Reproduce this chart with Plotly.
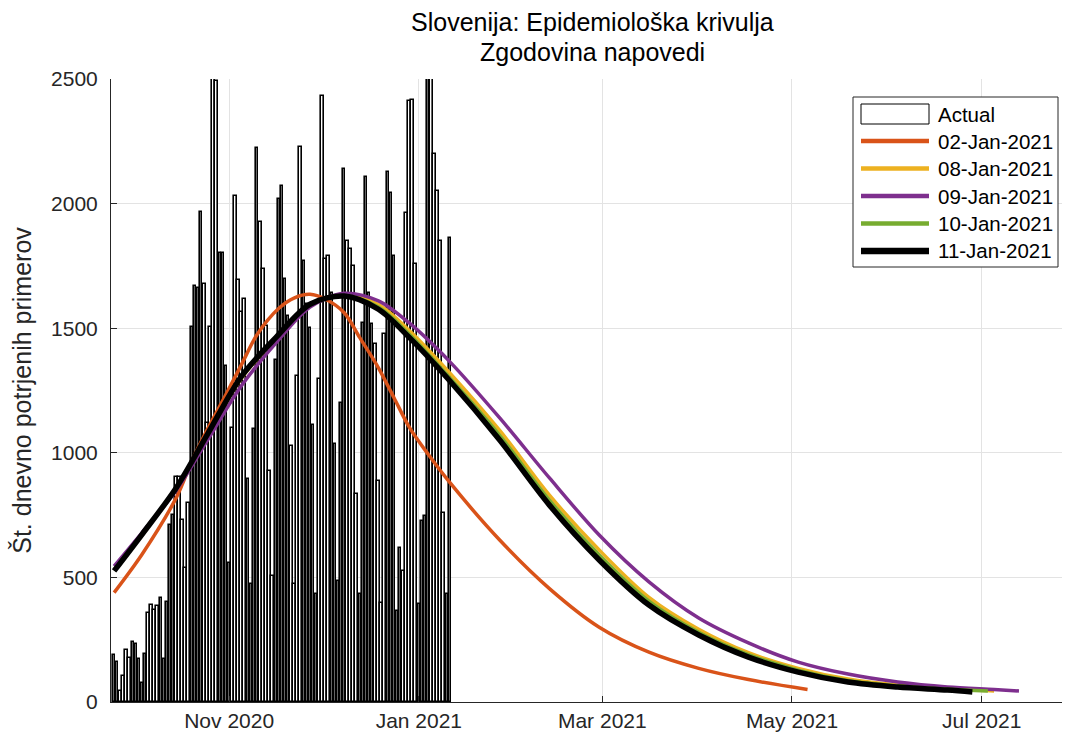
import pandas as pd
import plotly.graph_objects as go

# ---------------- data ----------------
bar_start = "2020-09-25"
actual = [
    189, 162, 44,
    104, 207, 178, 242, 231, 171, 78,
    194, 358, 389, 368, 384, 416, 171,
    403, 710, 749, 903, 903, 729, 539,
    800, 1506, 1668, 1660, 1968, 1676, 1118,
    1505, 2580, 2490, 1803, 1803, 1348, 559,
    1100, 2030, 1692, 1566, 1616, 894, 472,
    1094, 2225, 1927, 1736, 1509, 927, 506,
    1372, 2017, 2070, 1696, 1549, 1027, 472,
    1308, 2228, 1770, 1596, 1500, 1110, 432,
    1295, 2433, 1776, 1790, 1643, 1034, 486,
    1200, 2138, 1850, 1816, 1750, 833, 432,
    1522, 2105, 1643, 1515, 1435, 887, 399,
    1475, 2128, 2044, 1790, 365, 617, 526,
    1964, 2413, 2417, 1756, 392, 726, 746,
    2600, 2550, 2200, 2050, 1850, 757, 432,
    1863,
]
bar_dates = pd.date_range(bar_start, periods=len(actual), freq="D")

fc_02_dates = ["2020-09-25", "2020-10-04", "2020-10-15", "2020-10-20", "2020-10-25",
               "2020-10-31", "2020-11-05", "2020-11-10", "2020-11-17", "2020-11-22",
               "2020-11-27", "2020-12-02", "2020-12-08", "2020-12-13", "2020-12-19",
               "2020-12-24", "2020-12-29", "2021-01-04", "2021-01-11", "2021-01-27",
               "2021-02-12", "2021-02-28", "2021-03-16", "2021-04-01", "2021-04-17",
               "2021-05-06"]
fc_02_vals = [439, 593, 820, 967, 1094, 1235, 1355, 1475, 1580, 1622, 1636, 1616, 1562,
              1462, 1341, 1221, 1101, 994, 880, 650, 455, 300, 200, 135, 90, 50]

curve_dates = ["2020-09-25", "2020-10-04", "2020-10-15", "2020-10-25", "2020-11-05",
               "2020-11-16", "2020-11-27", "2020-12-08", "2020-12-19", "2020-12-29",
               "2021-01-11", "2021-01-27", "2021-02-12", "2021-02-28", "2021-03-16",
               "2021-04-01", "2021-04-17", "2021-05-03", "2021-05-19", "2021-06-04",
               "2021-06-20"]
fc_08_end = ["2021-07-05"]
fc_08_vals = [530, 675, 858, 1070, 1300, 1458, 1595, 1632, 1595, 1490, 1320, 1090, 830,
              610, 420, 292, 198, 135, 92, 68, 54, 44]
fc_09_end = ["2021-07-05", "2021-07-13"]
fc_09_vals = [545, 680, 850, 1050, 1270, 1440, 1585, 1640, 1610, 1520, 1365, 1140, 899,
              670, 482, 337, 237, 160, 112, 80, 60, 50, 44]
fc_10_end = ["2021-07-03"]
fc_10_vals = [528, 674, 860, 1073, 1306, 1461, 1596, 1630, 1585, 1475, 1300, 1070, 810,
              590, 405, 280, 190, 128, 86, 64, 51, 44]
fc_11_end = ["2021-06-28"]
fc_11_vals = [526, 673, 860, 1074, 1308, 1462, 1596, 1629, 1576, 1462, 1288, 1051, 790,
              570, 389, 269, 180, 120, 80, 60, 48, 40]

x_tickvals = ["2020-11-01", "2021-01-01", "2021-03-01", "2021-05-01", "2021-07-01"]
x_ticktext = ["Nov 2020", "Jan 2021", "Mar 2021", "May 2021", "Jul 2021"]
y_tickvals = [0, 500, 1000, 1500, 2000, 2500]

title_lines = ["Slovenija: Epidemiološka krivulja", "Zgodovina napovedi"]
legend_names = ["Actual", "02-Jan-2021", "08-Jan-2021", "09-Jan-2021", "10-Jan-2021",
                "11-Jan-2021"]

# ---------------- figure ----------------
FONT = "Liberation Sans, Arial, sans-serif"
AX = "#262626"
W, H = 1065, 738
ML, MR, MT, MB = 111, 3, 79, 36
PW, PH = W - ML - MR, H - MT - MB


def px(xp):
    return (xp - ML) / PW


def py(yp):
    return (H - MB - yp) / PH


fig = go.Figure()

fig.add_trace(go.Bar(
    x=bar_dates, y=actual, name="Actual", showlegend=False,
    width=0.8 * 86400000,
    marker=dict(color="white", line=dict(color="black", width=1.6)),
))

curves = [
    ("02-Jan-2021", fc_02_dates, fc_02_vals, "#D95319", 3.5),
    ("08-Jan-2021", curve_dates + fc_08_end, fc_08_vals, "#EDB120", 3.5),
    ("09-Jan-2021", curve_dates + fc_09_end, fc_09_vals, "#7E2F8E", 3.5),
    ("10-Jan-2021", curve_dates + fc_10_end, fc_10_vals, "#77AC30", 3.5),
    ("11-Jan-2021", curve_dates + fc_11_end, fc_11_vals, "#000000", 5.5),
]
for name, xd, yv, col, w in curves:
    fig.add_trace(go.Scatter(
        x=xd, y=yv, name=name, mode="lines", showlegend=False,
        line=dict(color=col, width=w, shape="spline", smoothing=0.9),
    ))

# title (two centred lines)
for txt, yp in zip(title_lines, [22, 52]):
    fig.add_annotation(
        text=txt, xref="paper", yref="paper", x=px(592), y=py(yp),
        xanchor="center", yanchor="middle", showarrow=False,
        font=dict(family=FONT, size=25, color="black"),
    )

# legend box drawn by hand (MATLAB style)
shapes = [dict(type="rect", xref="paper", yref="paper",
               x0=px(853), x1=px(1058), y0=py(97), y1=py(267),
               fillcolor="white", line=dict(color=AX, width=1))]
shapes.append(dict(type="rect", xref="paper", yref="paper",
                   x0=px(861), x1=px(929), y0=py(104), y1=py(124),
                   fillcolor="white", line=dict(color="black", width=1)))
row_y = [114, 141, 168.5, 196, 223.5, 251]
for (name, xd, yv, col, w), yrow in zip(curves, row_y[1:]):
    shapes.append(dict(type="line", xref="paper", yref="paper",
                       x0=px(861), x1=px(929), y0=py(yrow), y1=py(yrow),
                       line=dict(color=col, width=w + 1)))
for name, yrow in zip(legend_names, row_y):
    fig.add_annotation(
        text=name, xref="paper", yref="paper", x=px(936), y=py(yrow),
        xanchor="left", yanchor="middle", showarrow=False,
        font=dict(family=FONT, size=20.5, color="black"),
    )

fig.update_layout(
    width=W, height=H,
    margin=dict(l=ML, r=MR, t=MT, b=MB),
    paper_bgcolor="white", plot_bgcolor="white",
    font=dict(family=FONT, size=21, color=AX),
    showlegend=False,
    shapes=shapes,
    bargap=0,
)
fig.update_xaxes(
    range=["2020-09-24", "2021-07-26 20:00"],
    tickvals=x_tickvals, ticktext=x_ticktext,
    showgrid=True, gridcolor="#e3e3e3", gridwidth=1,
    showline=True, linecolor=AX, linewidth=1,
    ticks="inside", ticklen=6, tickcolor=AX,
    zeroline=False, mirror=False,
)
fig.update_yaxes(
    range=[0, 2500], tickvals=y_tickvals,
    showgrid=True, gridcolor="#e3e3e3", gridwidth=1,
    showline=True, linecolor=AX, linewidth=1,
    ticks="inside", ticklen=6, tickcolor=AX,
    ticklabelstandoff=8,
    zeroline=False,
    title=dict(text="Št. dnevno potrjenih primerov", font=dict(family=FONT, size=25, color=AX),
               standoff=12),
)

fig.write_html("out.html")
